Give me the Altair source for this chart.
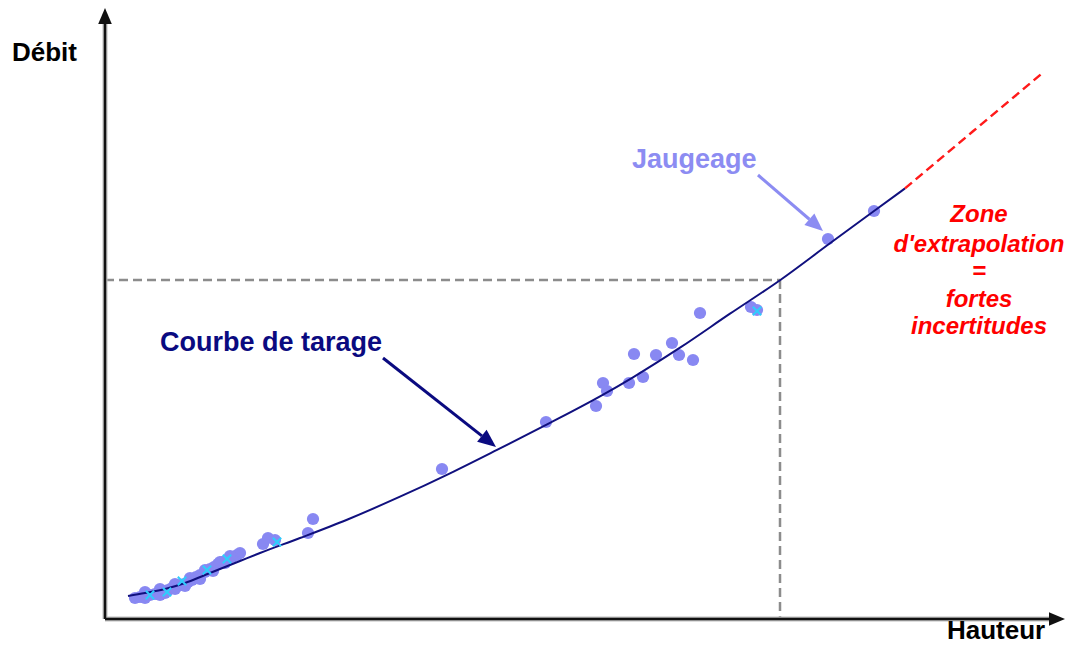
import math
import altair as alt
import pandas as pd

# ---- data (Hauteur, Débit) in chart units ----
curve_h = [2.3, 4.0, 6.0, 8.0, 10.0, 12.0, 13.5, 15.5, 19.5, 24.2, 29.5, 34.5, 39.2,
           44.5, 49.5, 52.8, 57.5, 62.5, 67.5, 72.5, 76.8, 80.0]
curve_d = [2.3, 2.6, 3.0, 3.6, 4.4, 5.2, 5.8, 6.6, 8.1, 9.93, 12.23, 14.57, 16.91,
           19.61, 22.26, 24.17, 27.13, 30.53, 33.88, 37.57, 40.72, 43.06]

extrap_h = [80.0, 86.8, 93.7]
extrap_d = [43.06, 48.77, 54.56]

jaug_h = [76.9, 72.3, 65.2, 64.6, 59.5, 56.7, 55.1, 52.9, 57.4, 58.8, 53.8, 52.4, 49.8,
          50.2, 49.1, 44.1, 33.7, 20.8, 20.3, 15.8, 16.3, 17.0, 13.5, 13.2, 12.7, 12.2,
          11.7, 11.3, 10.9, 10.5, 10.0, 9.5, 9.1, 8.7, 8.3, 7.9, 7.5, 7.1, 6.7, 6.3, 5.9,
          5.5, 5.0, 4.5, 4.1, 3.5, 3.0, 8.0, 9.5, 10.8, 7.0, 5.5, 12.0, 6.0, 4.0,
          8.5, 7.0, 5.5, 4.0, 10.0, 11.5, 12.5]
jaug_d = [40.8, 38.0, 30.9, 31.2, 30.6, 27.6, 26.4, 26.5, 26.4, 25.9, 24.2, 23.6, 23.6,
          22.8, 21.3, 19.7, 15.0, 10.0, 8.6, 7.5, 8.1, 7.9, 6.6, 6.4, 6.2, 5.9,
          5.7, 5.5, 5.2, 5.0, 4.7, 4.4, 4.2, 3.9, 3.7, 3.5, 3.4, 3.2, 3.1, 2.9, 2.8,
          2.7, 2.5, 2.4, 2.3, 2.2, 2.1, 3.3, 4.0, 4.8, 3.0, 2.4, 5.6, 2.6, 2.1,
          4.1, 3.5, 3.0, 2.7, 4.9, 5.7, 6.3]

cyan_h = [4.5, 6.2, 7.7, 10.2, 12.2, 17.2, 65.2]
cyan_d = [2.4, 2.7, 3.8, 4.9, 6.0, 7.7, 30.8]

ref_h = 67.5
ref_d = 33.9

X_MIN, X_MAX = -9.7, 96.1
Y_MIN, Y_MAX = -2.5, 61.1

axis_y_tip = 61.1
axis_x_tip = 96.0

labels = ["Débit", "Hauteur", "Courbe de tarage", "Jaugeage"]
labels_h = [-9.3, 84.2, 5.5, 52.7]
labels_d = [56.6, -2.0, 27.6, 45.9]
labels_col = ["#000000", "#000000", "#0a0a80", "#8c8cf2"]
labels_size = [26, 26, 27, 27]
labels_base = ["middle", "alphabetic", "middle", "middle"]

zone_lines = ["Zone", "d'extrapolation", "=", "fortes", "incertitudes"]
zone_h = 87.4
zone_d = [40.4, 37.4, 34.7, 31.9, 29.2]

arrow_start_h = [27.8, 65.3]
arrow_start_d = [26.1, 44.4]
arrow_tip_h = [39.1, 71.8]
arrow_tip_d = [17.2, 38.8]
arrow_col = ["#0a0a80", "#8c8cf2"]

W, H = 1058, 636
FONT = "Liberation Sans"

xs = alt.Scale(domain=[X_MIN, X_MAX], nice=False, zero=False)
ys = alt.Scale(domain=[Y_MIN, Y_MAX], nice=False, zero=False)
px_per_unit_x = W / (X_MAX - X_MIN)
px_per_unit_y = H / (Y_MAX - Y_MIN)


def X(f="h"):
    return alt.X(f"{f}:Q", scale=xs, axis=None)


def Y(f="d"):
    return alt.Y(f"{f}:Q", scale=ys, axis=None)


# ---- reference dashed lines ----
ref_df = pd.DataFrame({"h": [0, ref_h], "d": [ref_d, ref_d], "h2": [ref_h, ref_h], "d2": [ref_d, 0]})
ref_layer = alt.Chart(ref_df).mark_rule(color="#8c8c8c", strokeWidth=2.5, strokeDash=[9, 5]).encode(
    x=X(), y=Y(), x2="h2:Q", y2="d2:Q")

# ---- points ----
pts = alt.Chart(pd.DataFrame({"h": jaug_h, "d": jaug_d})).mark_circle(
    size=150, color="#8888f2", opacity=1).encode(x=X(), y=Y())

# ---- curve ----
curve = alt.Chart(pd.DataFrame({"h": curve_h, "d": curve_d, "i": range(len(curve_h))})).mark_line(
    color="#10107e", strokeWidth=2, interpolate="monotone").encode(x=X(), y=Y(), order="i:Q")
extrap = alt.Chart(pd.DataFrame({"h": extrap_h, "d": extrap_d, "i": range(len(extrap_h))})).mark_line(
    color="#ff1a1a", strokeWidth=2.5, strokeDash=[9, 5]).encode(x=X(), y=Y(), order="i:Q")

# ---- cyan crosses ----
cyan = alt.Chart(pd.DataFrame({"h": cyan_h, "d": cyan_d})).mark_point(
    shape="M-1,-1L1,1M1,-1L-1,1", filled=False, size=70, strokeWidth=2, color="#2ecdfc",
    opacity=1).encode(x=X(), y=Y())

HEAD = "M0,-1L0.85,1L-0.85,1Z"


def head_rows(tips_h, tips_d, starts_h, starts_d, length_px, cols):
    rows = []
    for th, td, sh, sd, c in zip(tips_h, tips_d, starts_h, starts_d, cols):
        dx = (th - sh) * px_per_unit_x
        dy = -(td - sd) * px_per_unit_y
        n = math.hypot(dx, dy)
        ux, uy = dx / n, dy / n
        half = length_px / 2
        ch = th - ux * half / px_per_unit_x
        cd = td + uy * half / px_per_unit_y
        ang = math.degrees(math.atan2(ux, -uy)) % 360
        bh = th - ux * length_px / px_per_unit_x
        bd = td + uy * length_px / px_per_unit_y
        rows.append({"h": ch, "d": cd, "ang": ang, "c": c, "bh": bh, "bd": bd, "sh": sh, "sd": sd})
    return pd.DataFrame(rows)


# ---- annotation arrows ----
arr = head_rows(arrow_tip_h, arrow_tip_d, arrow_start_h, arrow_start_d, 18, arrow_col)
arrow_lines = alt.Chart(arr).mark_rule(strokeWidth=3).encode(
    x=alt.X("sh:Q", scale=xs, axis=None), y=alt.Y("sd:Q", scale=ys, axis=None),
    x2="bh:Q", y2="bd:Q", color=alt.Color("c:N", scale=None))
arrow_heads = alt.Chart(arr).mark_point(shape=HEAD, filled=True, size=324, opacity=1).encode(
    x=X(), y=Y(), angle=alt.Angle("ang:Q", scale=None), color=alt.Color("c:N", scale=None))

# ---- axes ----
ax = head_rows([0, axis_x_tip], [axis_y_tip, 0], [0, 0], [0, 0], 16, ["#111111", "#111111"])
axis_shadow = alt.Chart(ax).mark_rule(strokeWidth=5, color="#bdbdbd").encode(
    x=alt.X("sh:Q", scale=xs, axis=None), y=alt.Y("sd:Q", scale=ys, axis=None), x2="bh:Q", y2="bd:Q")
axis_lines = alt.Chart(ax).mark_rule(strokeWidth=2.5, color="#111111").encode(
    x=alt.X("sh:Q", scale=xs, axis=None), y=alt.Y("sd:Q", scale=ys, axis=None), x2="bh:Q", y2="bd:Q")
axis_heads = alt.Chart(ax).mark_point(shape=HEAD, filled=True, size=256, opacity=1, color="#111111").encode(
    x=X(), y=Y(), angle=alt.Angle("ang:Q", scale=None))

# ---- texts ----
lab_df = pd.DataFrame({"t": labels, "h": labels_h, "d": labels_d, "c": labels_col,
                       "s": labels_size, "b": labels_base})
txt_layers = []
for base in ["middle", "alphabetic"]:
    txt_layers.append(
        alt.Chart(lab_df[lab_df["b"] == base]).mark_text(
            align="left", baseline=base, font=FONT, fontWeight="bold").encode(
            x=X(), y=Y(), text="t:N", color=alt.Color("c:N", scale=None),
            size=alt.Size("s:Q", scale=None))
    )
zone = alt.Chart(pd.DataFrame({"t": zone_lines, "h": [zone_h] * len(zone_lines), "d": zone_d})).mark_text(
    align="center", baseline="middle", font=FONT, fontSize=24, fontWeight="bold", fontStyle="italic",
    color="#ff0000").encode(x=X(), y=Y(), text="t:N")

chart = alt.layer(
    ref_layer, pts, curve, extrap, cyan, arrow_lines, arrow_heads,
    axis_shadow, axis_lines, axis_heads, *txt_layers, zone
).properties(width=W, height=H, padding=0, autosize="none", background="white").configure_view(stroke=None)

chart.save("out.html", embed_options={"renderer": "svg", "actions": False})
